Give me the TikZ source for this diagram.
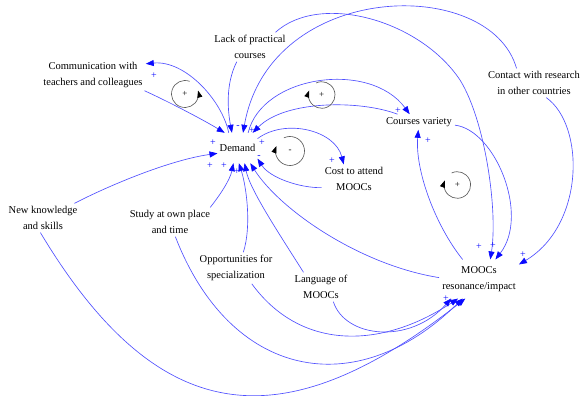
\documentclass[tikz,border=0pt]{standalone}
\usepackage{fontspec}
\setmainfont{Liberation Serif}
\usetikzlibrary{arrows.meta}
\definecolor{linkblue}{RGB}{80,80,255}
\definecolor{tipblue}{RGB}{10,10,255}
\definecolor{loopgray}{RGB}{90,90,90}
\tikzset{
 vname/.style={font=\fontsize{10.5}{15.5}\selectfont, align=center, inner sep=3pt},
 causal/.style={draw=linkblue, line width=0.65pt, -{Triangle[length=8pt,width=6pt,color=tipblue,fill=tipblue]}},
 pol/.style={text=tipblue, font=\fontsize{10}{10}\selectfont, inner sep=0pt},
 loopring/.style={draw=loopgray, line width=0.65pt, -{Triangle[length=7pt,width=5pt,color=black,fill=black]}},
 looplbl/.style={font=\fontsize{9}{9}\selectfont, inner sep=0pt},
}
\begin{document}
\begin{tikzpicture}[x=1pt,y=-1pt]
\useasboundingbox (0,0) rectangle (581,396);
% variables
\node[vname] (comm) at (93,75) {Communication with\\teachers and colleagues};
\node[vname] (lack) at (250,47) {Lack of practical\\courses};
\node[vname] (courses) at (419,122) {Courses variety};
\node[vname] (cost) at (354,179) {Cost to attend\\MOOCs};
\node[vname] (contact) at (534,83) {Contact with research\\in other countries};
\node[vname, inner sep=2pt, minimum width=39pt, minimum height=30pt] (demand) at (237.5,148) {Demand};
\node[vname] (newk) at (43,218) {New knowledge\\and skills};
\node[vname] (study) at (170,222) {Study at own place\\and time};
\node[vname] (opp) at (236,268) {Opportunities for\\specialization};
\node[vname] (lang) at (321,287) {Language of\\MOOCs};
\node[vname, inner ysep=7pt] (mooc) at (479,279) {MOOCs\\resonance/impact};
% links into / out of Demand
\draw[causal] (comm.-17) .. controls (165,100) and (200,118) .. (demand.130);
\draw[causal] (demand.120) .. controls (222,100) and (185,60) .. (comm.12);
\draw[causal] (lack.-132) .. controls (225,85) and (228,112) .. (demand.110);
\draw[causal] (contact.140) .. controls (490,-25) and (270,-20) .. (demand.70);
\draw[causal] (demand.55) .. controls (262,75) and (370,60) .. (courses.140);
\draw[causal] (courses.160) .. controls (360,100) and (285,100) .. (demand.45);
\draw[causal] (demand.25) .. controls (285,118) and (335,130) .. (cost.125);
\draw[causal] (cost.195) .. controls (300,188) and (270,178) .. (demand.-28);
\draw[causal] (newk.25) .. controls (110,185) and (170,160) .. (demand.195);
\draw[causal] (study.20) .. controls (220,195) and (230,180) .. (demand.-105);
\draw[causal] (opp.65) .. controls (252,225) and (246,185) .. (demand.-85);
\draw[causal] (lang.140) .. controls (280,235) and (250,190) .. (demand.-65);
\draw[causal] (mooc.178) .. controls (360,265) and (280,210) .. (demand.-50);
% links into / out of MOOCs resonance
\draw[causal] (lack.30) .. controls (320,-8) and (420,20) .. (460,80) .. controls (485,120) and (498,210) .. (mooc.60);
\draw[causal] (courses.-5) .. controls (495,130) and (530,215) .. (mooc.50);
\draw[causal] (contact.-50) .. controls (585,125) and (585,225) .. (mooc.20);
\draw[causal] (mooc.130) .. controls (435,225) and (415,170) .. (courses.-95);
\draw[causal] (newk.-100) .. controls (160,432) and (285,440) .. (mooc.-125);
\draw[causal] (study.-70) .. controls (230,378) and (355,404) .. (mooc.-130);
\draw[causal] (opp.-45) .. controls (300,350) and (380,350) .. (mooc.-137);
\draw[causal] (lang.-50) .. controls (345,338) and (410,345) .. (mooc.-145);
% loop markers
\draw[loopring] (185,94) ++(-70:13.5) arc[start angle=-70, end angle=-375, radius=13.5];
\node[looplbl] (loopa) at (185,94) {+};
\draw[loopring] (321.7,95) ++(-115:13.3) arc[start angle=-115, end angle=200, radius=13.3];
\node[looplbl] (loopb) at (321.7,95) {+};
\draw[loopring] (290,151) ++(-115:14.5) arc[start angle=-115, end angle=200, radius=14.5];
\node[looplbl] (loopc) at (290,151) {-};
\draw[loopring] (457.3,185) ++(-115:13.3) arc[start angle=-115, end angle=200, radius=13.3];
\node[looplbl] (loopd) at (457.3,185) {+};
% polarities
\node[pol] (p1) at (154,76) {+};
\node[pol] (p2) at (213,143) {+};
\node[pol] (p3) at (252,131) {+};
\node[pol] (p4) at (262,143) {+};
\node[pol] (p5) at (210,166) {+};
\node[pol] (p6) at (224,166) {+};
\node[pol] (p7) at (237,172) {+};
\node[pol] (p8) at (238,127) {-};
\node[pol] (p9) at (259,157) {-};
\node[pol] (p10) at (398,111) {+};
\node[pol] (p11) at (332,161) {+};
\node[pol] (p12) at (428,141) {+};
\node[pol] (p13) at (479,247) {+};
\node[pol] (p14) at (493,246) {+};
\node[pol] (p15) at (523,255) {+};
\node[pol] (p16) at (446,299) {+};
\node[pol] (p17) at (452,303) {+};
\end{tikzpicture}
\end{document}
